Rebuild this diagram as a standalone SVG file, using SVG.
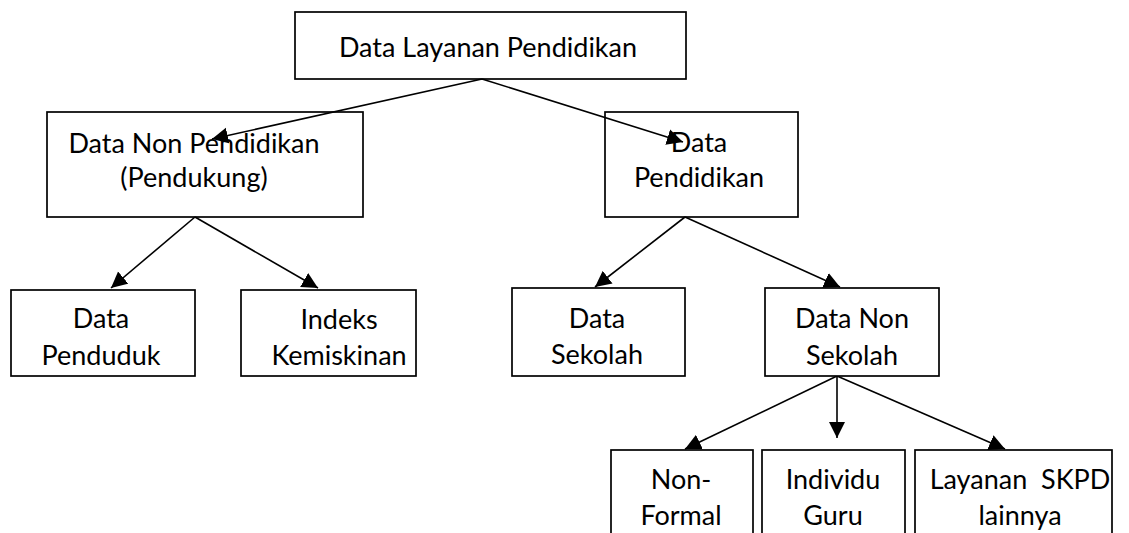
<svg xmlns="http://www.w3.org/2000/svg" width="1129" height="533" viewBox="0 0 1129 533">
<style>
.box{fill:#fff;stroke:#000;stroke-width:1.7}
.t{font-family:Lato,"Liberation Sans",sans-serif;font-size:27px;fill:#000;text-anchor:middle}
.c{stroke:#000;stroke-width:1.6;fill:none;marker-end:url(#ah)}
</style>
<defs>
<marker id="ah" markerUnits="userSpaceOnUse" markerWidth="17" markerHeight="17" refX="16" refY="8" orient="auto" viewBox="0 0 17 16">
<path d="M0,0 L16,8 L0,16 z" fill="#000"/>
</marker>
</defs>
<rect width="1129" height="533" fill="#fff"/>
<g id="n-top">
<rect class="box" x="295" y="12" width="391" height="67"/>
<text class="t" x="488" y="57">Data Layanan Pendidikan</text>
</g>
<g id="n-nonpend">
<rect class="box" x="47" y="112" width="316" height="105"/>
<text class="t" x="194" y="153">Data Non Pendidikan</text>
<text class="t" x="194" y="187">(Pendukung)</text>
</g>
<g id="n-pend">
<rect class="box" x="605" y="112" width="193" height="105"/>
<text class="t" x="699" y="152">Data</text>
<text class="t" x="699" y="187">Pendidikan</text>
</g>
<g id="connectors">
<line class="c" x1="482" y1="79" x2="212" y2="139"/>
<line class="c" x1="482" y1="79" x2="683" y2="142"/>
<line class="c" x1="195" y1="217" x2="111" y2="288"/>
<line class="c" x1="195" y1="217" x2="318" y2="288"/>
<line class="c" x1="685" y1="217" x2="595" y2="287"/>
<line class="c" x1="685" y1="217" x2="840" y2="287"/>
<line class="c" x1="837" y1="376" x2="685" y2="449"/>
<line class="c" x1="837" y1="376" x2="837" y2="438"/>
<line class="c" x1="837" y1="376" x2="1005" y2="449"/>
</g>
<g id="n-penduduk">
<rect class="box" x="11" y="290" width="184" height="86"/>
<text class="t" x="101" y="328">Data</text>
<text class="t" x="101" y="365">Penduduk</text>
</g>
<g id="n-indeks">
<rect class="box" x="241" y="290" width="175" height="86"/>
<text class="t" x="339" y="329">Indeks</text>
<text class="t" x="339" y="365">Kemiskinan</text>
</g>
<g id="n-sekolah">
<rect class="box" x="512" y="288" width="173" height="88"/>
<text class="t" x="597" y="328">Data</text>
<text class="t" x="597" y="364">Sekolah</text>
</g>
<g id="n-nonsekolah">
<rect class="box" x="765" y="288" width="174" height="88"/>
<text class="t" x="852" y="328">Data Non</text>
<text class="t" x="852" y="365">Sekolah</text>
</g>
<g id="n-nonformal">
<rect class="box" x="611" y="450" width="142" height="100"/>
<text class="t" x="681" y="489">Non-</text>
<text class="t" x="681" y="525">Formal</text>
</g>
<g id="n-guru">
<rect class="box" x="762" y="450" width="143" height="100"/>
<text class="t" x="833" y="489">Individu</text>
<text class="t" x="833" y="525">Guru</text>
</g>
<g id="n-skpd">
<rect class="box" x="915" y="450" width="197" height="100"/>
<text class="t" x="1020" y="489" xml:space="preserve">Layanan  SKPD</text>
<text class="t" x="1020" y="525">lainnya</text>
</g>
</svg>
